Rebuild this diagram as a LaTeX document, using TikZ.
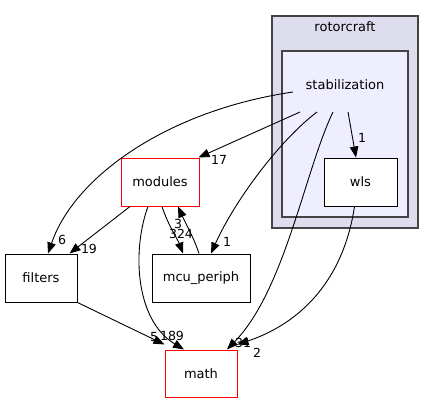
\documentclass[tikz,border=0pt]{standalone}
\usepackage{fontspec}
\setmainfont{DejaVu Sans}
\usetikzlibrary{arrows.meta}
\definecolor{clusterA}{HTML}{DDDDEE}
\definecolor{clusterB}{HTML}{EEEEFF}
\definecolor{clborder}{HTML}{444444}
\tikzset{
  box/.style={draw=black, fill=white, line width=1pt, minimum height=48pt, inner sep=0pt, font=\fontsize{13}{15}\selectfont},
  redbox/.style={box, draw=red},
  dep/.style={draw=black, line width=0.9pt, -{Triangle[length=11pt,width=8.5pt]}},
  lbl/.style={font=\fontsize{12.5}{14}\selectfont, inner sep=0pt},
  cl/.style={line width=1.5pt, draw=clborder},
  cltext/.style={font=\fontsize{13}{15}\selectfont}
}
\begin{document}
\begin{tikzpicture}[x=1pt,y=-1pt]
\useasboundingbox (0,0) rectangle (435,404);
% clusters
\filldraw[cl, fill=clusterA] (272,16) rectangle (418,228);
\node[cltext] (rotor) at (345,27) {rotorcraft};
\filldraw[cl, fill=clusterB] (282,51) rectangle (408,217);
\node[cltext] (stab) at (345,85) {stabilization};
% start points
\coordinate (s1) at (293,92);
\coordinate (s2) at (300,112);
\coordinate (s3) at (317,112);
\coordinate (s4) at (333,112);
\coordinate (s5) at (348,112);
% nodes
\node[box, minimum width=73pt] (wls) at (360.5,182) {wls};
\node[redbox, minimum width=78pt] (modules) at (160,182) {modules};
\node[box, minimum width=72pt] (filters) at (41,278) {filters};
\node[box, minimum width=98pt] (mcu) at (201,278) {mcu\_periph};
\node[redbox, minimum width=72pt, minimum height=47pt] (math) at (201,373.5) {math};
% edges
\draw[dep] (s1) .. controls (170,110) and (75,175) .. ([xshift=7pt]filters.north);
\node[lbl] (l6) at (62,240) {6};
\draw[dep] (s2) -- ([xshift=-1pt]modules.north east);
\node[lbl] (l17) at (219,160) {17};
\draw[dep] (s3) .. controls (280,140) and (235,200) .. ([xshift=10pt]mcu.north);
\node[lbl] (l1a) at (227,242) {1};
\draw[dep] (s4) .. controls (305,170) and (285,290) .. ([xshift=26pt]math.north);
\node[lbl] (l31) at (243,343) {31};
\draw[dep] (s5) -- ([xshift=-4.5pt]wls.north);
\node[lbl] (l1b) at (362,138) {1};
\draw[dep] ([xshift=-6pt]wls.south) .. controls (345,270) and (310,320) .. ([yshift=5pt]math.north east);
\node[lbl] (l2) at (257,353) {2};
\draw[dep] ([xshift=-30pt]modules.south) -- ([xshift=-8pt]filters.north east);
\node[lbl] (l19) at (89,249) {19};
\draw[dep] ([xshift=2pt]modules.south) .. controls (168,225) and (178,240) .. ([xshift=-18pt]mcu.north);
\node[lbl] (l324) at (181,234) {324};
\draw[dep] ([xshift=-2pt]mcu.north) .. controls (194,238) and (184,220) .. ([xshift=18pt]modules.south);
\node[lbl] (l3) at (178,224) {3};
\draw[dep] ([xshift=-12pt]modules.south) .. controls (132,250) and (135,320) .. ([xshift=-17pt]math.north);
\node[lbl] (l189) at (172,336) {189};
\draw[dep] (filters.south east) -- ([yshift=5pt]math.north west);
\node[lbl] (l5) at (154,337) {5};
\end{tikzpicture}
\end{document}
